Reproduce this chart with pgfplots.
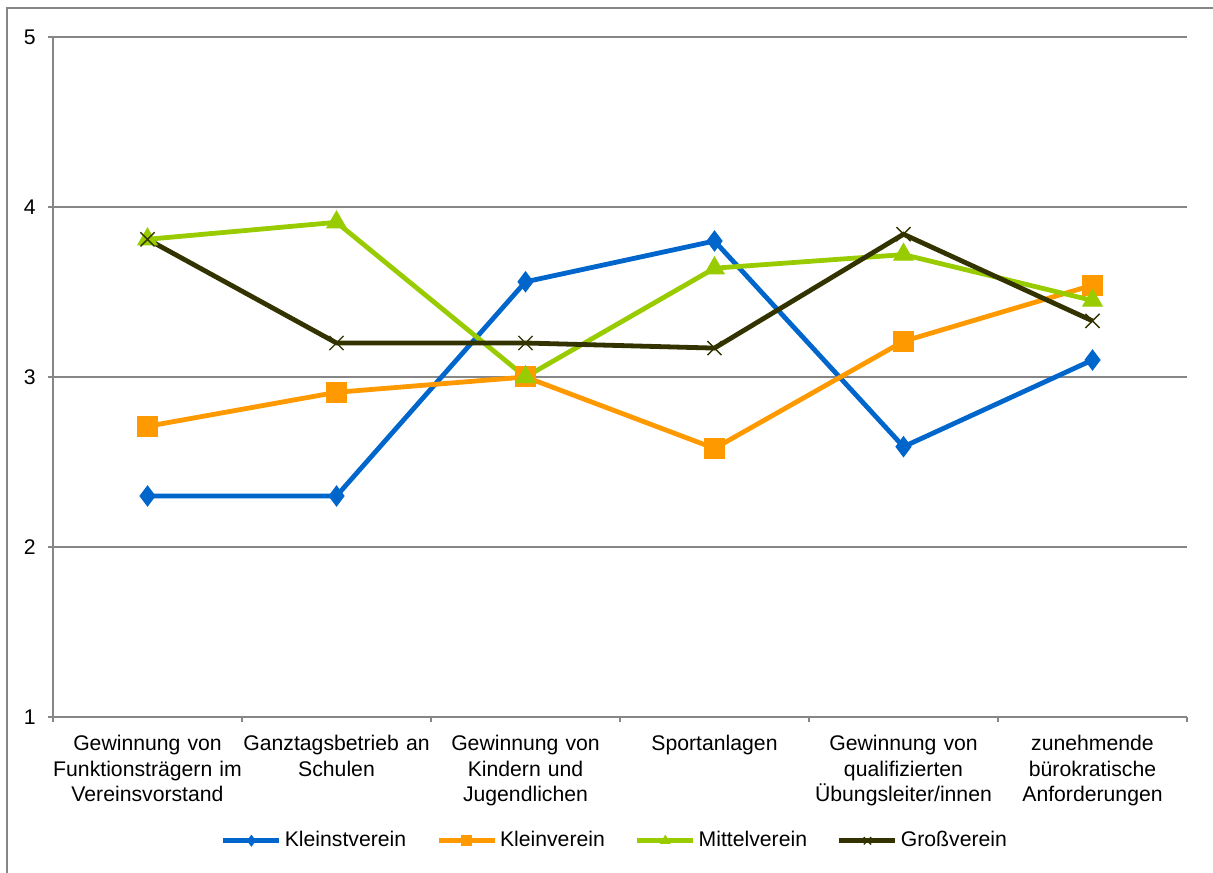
\documentclass[border=0pt]{standalone}
\usepackage{fontspec}
\setmainfont{Liberation Sans}
\usepackage{pgfplots}
\pgfplotsset{compat=1.18}
\definecolor{cblue}{HTML}{0066CC}
\definecolor{corange}{HTML}{FF9900}
\definecolor{cgreen}{HTML}{99CC00}
\definecolor{cdark}{HTML}{333300}
\definecolor{cgrid}{HTML}{868686}
\begin{document}
\begin{tikzpicture}
\path[use as bounding box] (0,0) rectangle (606.5pt,436pt);
\draw[cgrid, line width=1pt] (3.5pt,-5pt) -- (3.5pt,432pt) -- (615pt,432pt);
\begin{axis}[
  at={(26.5pt,77.5pt)}, anchor=south west,
  scale only axis, width=567pt, height=340pt,
  xmin=-0.5, xmax=5.5, ymin=1, ymax=5,
  ytick={1,2,3,4,5},
  xtick={-0.5,0.5,1.5,2.5,3.5,4.5,5.5},
  xticklabels={
    {Gewinnung von\\Funktionsträgern im\\Vereinsvorstand},
    {Ganztagsbetrieb an\\Schulen},
    {Gewinnung von\\Kindern und\\Jugendlichen},
    {Sportanlagen},
    {Gewinnung von\\qualifizierten\\Übungsleiter/innen},
    {zunehmende\\bürokratische\\Anforderungen},
    {}},
  font=\fontsize{10.6pt}{12.8pt}\selectfont,
  /pgf/number format/assume math mode=true,
  xticklabel style={text width=110pt, align=center, anchor=north, xshift=47.25pt, inner sep=0pt, yshift=-6.5pt},
  yticklabel style={inner sep=0pt, xshift=-6pt},
  axis x line*=bottom, axis y line*=left,
  axis line style={cgrid, line width=1pt, -},
  ymajorgrids, major grid style={cgrid, line width=1pt},
  tick style={cgrid, line width=1pt},
  tick align=outside, major tick length=2.5pt,
  legend style={at={(0.496,-0.182)}, anchor=center, draw=none, fill=none,
    legend columns=4, /tikz/every even column/.append style={column sep=13.5pt},
    nodes={inner sep=1.5pt}},
  legend cell align=left,
  legend image code/.code={\draw[mark repeat=2,mark phase=2,mark size=2.6pt] plot coordinates {(0pt,0pt) (14pt,0pt) (28pt,0pt)};},
]
\addplot[cblue, line width=2.4pt, mark=diamond*, mark size=5pt, mark options={solid, fill=cblue, line width=0.5pt}]
  coordinates {(0,2.30) (1,2.30) (2,3.56) (3,3.80) (4,2.59) (5,3.10)};
\addlegendentry{Kleinstverein}
\addplot[corange, line width=2.4pt, mark=square*, mark size=5pt, mark options={solid, fill=corange, line width=0.5pt}]
  coordinates {(0,2.71) (1,2.91) (2,3.00) (3,2.58) (4,3.21) (5,3.54)};
\addlegendentry{Kleinverein}
\addplot[cgreen, line width=2.4pt, mark=triangle*, mark size=5.6pt, mark options={solid, fill=cgreen, line width=0.5pt}]
  coordinates {(0,3.81) (1,3.91) (2,3.00) (3,3.64) (4,3.72) (5,3.45)};
\addlegendentry{Mittelverein}
\addplot[cdark, line width=2.4pt, mark=x, mark size=5pt, mark options={solid, line width=0.7pt}]
  coordinates {(0,3.81) (1,3.20) (2,3.20) (3,3.17) (4,3.84) (5,3.33)};
\addlegendentry{Großverein}
\end{axis}
\end{tikzpicture}
\end{document}
